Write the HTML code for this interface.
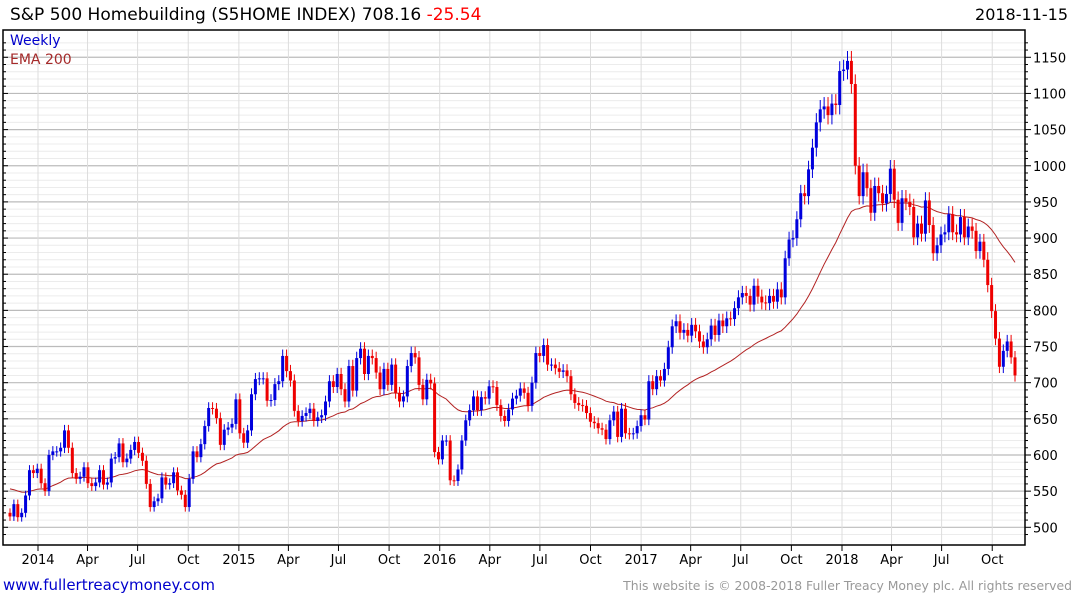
<!DOCTYPE html>
<html><head><meta charset="utf-8"><style>
body{margin:0;background:#fff;width:1075px;height:600px;overflow:hidden;font-family:"DejaVu Sans","Liberation Sans",sans-serif}
svg{display:block}
</style></head><body>
<svg id="chart" width="1075" height="600" viewBox="0 0 1075 600" xmlns="http://www.w3.org/2000/svg" font-family="DejaVu Sans, Liberation Sans, sans-serif">
<text x="10" y="20" font-size="17" fill="#000">S&amp;P 500 Homebuilding (S5HOME INDEX) 708.16 <tspan fill="#f00">-25.54</tspan></text>
<text x="1068" y="20" font-size="16" text-anchor="end" fill="#000">2018-11-15</text>
<g id="grid"></g>
<g id="ema"></g>
<g id="candles"></g>
<g id="axes"></g>
<rect x="3" y="30" width="1022" height="515" fill="none" stroke="#000" stroke-width="1.5"/>
<text x="10" y="45" font-size="14" fill="#00c">Weekly</text>
<text x="10" y="64" font-size="14" fill="#a52a2a">EMA 200</text>
<text x="3" y="590" font-size="15" fill="#0000cc">www.fullertreacymoney.com</text>
<text x="1072" y="590" font-size="12.4" text-anchor="end" fill="#999">This website is © 2008-2018 Fuller Treacy Money plc. All rights reserved</text>
</svg>
<script>
const closes=[515,532,514,520,544,579,575,581,561,550,600,605,605,610,634,610,575,567,570,583,561,557,562,579,559,562,595,597,616,590,595,607,618,603,592,560,528,536,540,569,559,561,576,551,545,528,567,605,597,615,640,665,664,651,614,635,638,643,677,630,617,
634,684,705,706,706,675,676,698,702,737,716,703,661,647,654,658,664,647,652,655,674,702,694,712,691,674,723,689,734,747,712,737,734,714,691,719,697,725,686,674,681,723,741,735,697,677,704,699,604,594,620,620,565,564,580,620,648,662,681,662,680,
678,695,694,669,654,647,663,678,682,692,686,668,700,741,737,752,725,725,720,715,717,709,684,672,669,668,658,646,644,637,635,622,648,660,625,664,630,629,630,640,655,649,702,691,709,703,719,749,778,
785,769,773,765,780,771,757,749,760,779,766,786,778,789,788,803,818,824,820,808,834,819,811,810,820,812,829,818,872,898,900,926,962,958,995,1025,1060,1078,1082,1070,1086,1084,1131,1133,1145,1113,1000,958,991,969,
935,972,962,948,961,996,953,921,955,950,943,901,920,906,952,918,879,890,905,908,933,908,905,929,901,916,910,882,895,870,835,799,761,722,744,757,735,710];
const yTicks=[500,550,600,650,700,750,800,850,900,950,1000,1050,1100,1150];
const xLabels=["2014","Apr","Jul","Oct","2015","Apr","Jul","Oct","2016","Apr","Jul","Oct","2017","Apr","Jul","Oct","2018","Apr","Jul","Oct"];
const xLabelDates=["2014-01-01","2014-04-01","2014-07-01","2014-10-01","2015-01-01","2015-04-01","2015-07-01","2015-10-01","2016-01-01","2016-04-01","2016-07-01","2016-10-01","2017-01-01","2017-04-01","2017-07-01","2017-10-01","2018-01-01","2018-04-01","2018-07-01","2018-10-01"];
const firstOpen=520;

const NS="http://www.w3.org/2000/svg";
const N=closes.length;
const X0=10,X1=1015;
function xs(i){return X0+i*(X1-X0)/(N-1);}
function xd(d){return 38+(new Date(d)-new Date("2014-01-01"))/864e5*(804/1461);}
function ys(v){return 527.3-(v-500)*0.7231;}
function mk(tag,attrs,parent){const e=document.createElementNS(NS,tag);for(const k in attrs)e.setAttribute(k,attrs[k]);parent.appendChild(e);return e;}
const grid=document.getElementById('grid'),axes=document.getElementById('axes');
for(let v=490;v<=1170;v+=10){
  const y=ys(v); if(y<31||y>544)continue;
  const l=mk('line',{x1:3,x2:1025,y1:y,y2:y,stroke:(v%50===0)?'#bbb':'#ececec','stroke-width':(v%50===0)?1.2:1},grid);
  
  
  const t=mk('line',{x1:1025,x2:(v%50===0)?1031:1028,y1:y,y2:y,stroke:'#000'},axes);
  
  
  const t2=mk('line',{x1:3,x2:(v%50===0)?8:6,y1:y,y2:y,stroke:'#000'},axes);
  
  
}
yTicks.forEach(v=>{
  const t=mk('text',{x:1033,y:ys(v)+5,'font-size':13,fill:'#000'},axes);
  t.textContent=v;
  
  
});
xLabels.forEach((lab,k)=>{
  const x=xd(xLabelDates[k]);
  const g=mk('line',{x1:x,x2:x,y1:31,y2:544,stroke:'#ddd'},grid);
  
  
  const tk=mk('line',{x1:x,x2:x,y1:545,y2:551,stroke:'#000'},axes);
  
  
  const t=mk('text',{x:x,y:564,'font-size':13,'text-anchor':'middle',fill:'#000'},axes);
  t.textContent=lab;
  
  
});
let ema=555;const a=2/41;let pts=[];
closes.forEach((c,i)=>{ema=ema+a*(c-ema);pts.push(xs(i).toFixed(1)+','+ys(ema).toFixed(1));});
const pl=mk('polyline',{points:pts.join(' '),fill:'none',stroke:'#b22222','stroke-width':1},document.getElementById('ema'));


const cg=document.getElementById('candles');
closes.forEach((c,i)=>{
  const o=i===0?firstOpen:closes[i-1];
  const up=c>=o;const col=up?'#0000dd':'#ee0000';
  const hi=Math.max(o,c)*1.012,lo=Math.min(o,c)*0.988;
  const x=xs(i);
  const w=mk('line',{x1:x,x2:x,y1:ys(hi),y2:ys(lo),stroke:col,'stroke-width':1},cg);
  
  
  const top=ys(Math.max(o,c)),bot=ys(Math.min(o,c));
  const r=mk('rect',{x:x-1.5,y:top,width:3,height:Math.max(1,bot-top),fill:col},cg);
  
  
});
</script>
</body></html>
